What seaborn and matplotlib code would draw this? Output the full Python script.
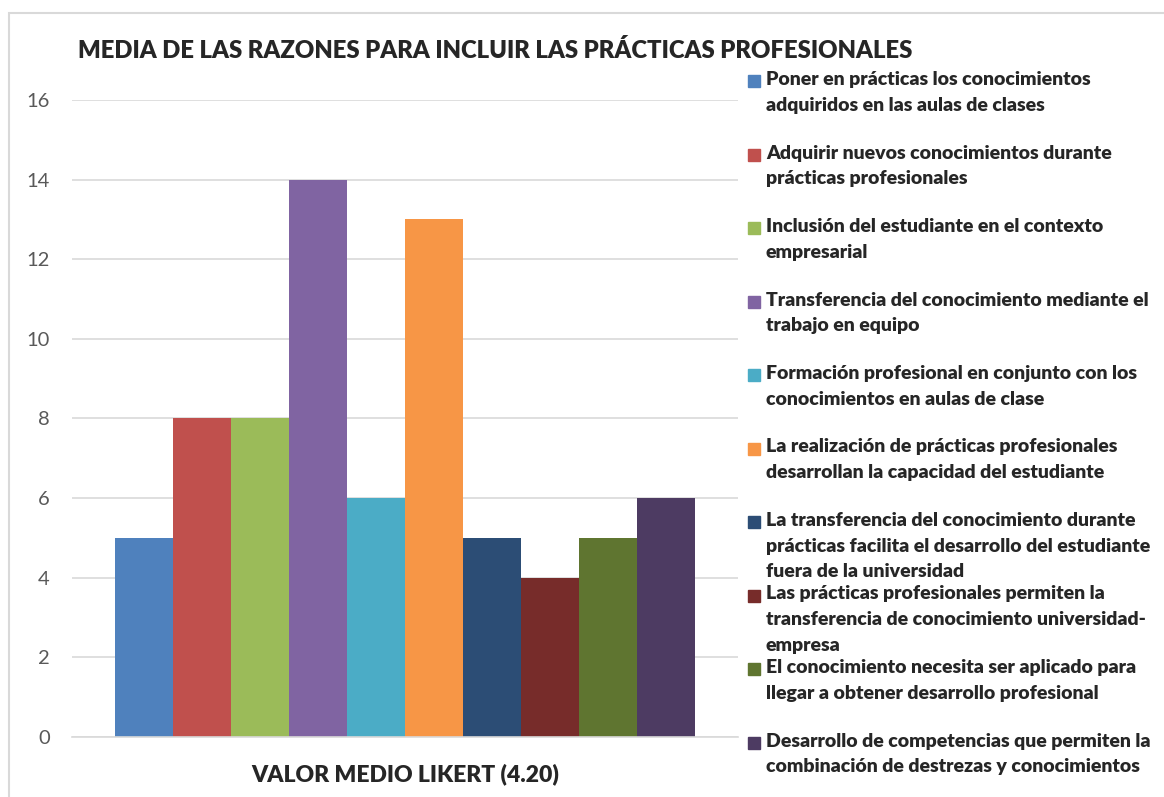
import pandas as pd
import matplotlib.pyplot as plt
import seaborn as sns
from matplotlib.patches import Rectangle

sns.set_style("white")
plt.rcParams['font.family'] = ['Lato', 'DejaVu Sans']

# Data
categoria = "VALOR MEDIO LIKERT (4.20)"
razones = [
    "Poner en prácticas los conocimientos\nadquiridos en las aulas de clases",
    "Adquirir nuevos conocimientos durante\nprácticas profesionales",
    "Inclusión del estudiante en el contexto\nempresarial",
    "Transferencia del conocimiento mediante el\ntrabajo en equipo",
    "Formación profesional en conjunto con los\nconocimientos en aulas de clase",
    "La realización de prácticas profesionales\ndesarrollan la capacidad del estudiante",
    "La transferencia del conocimiento durante\nprácticas facilita el desarrollo del estudiante\nfuera de la universidad",
    "Las prácticas profesionales permiten la\ntransferencia de conocimiento universidad-\nempresa",
    "El conocimiento necesita ser aplicado para\nllegar a obtener desarrollo profesional",
    "Desarrollo de competencias que permiten la\ncombinación de destrezas y conocimientos",
]
valores = [5, 8, 8, 14, 6, 13, 5, 4, 5, 6]
colores = ["#4F81BD", "#C0504D", "#9BBB59", "#8064A2", "#4BACC6",
           "#F79646", "#2C4D75", "#772C2A", "#5F7530", "#4D3B62"]

df = pd.DataFrame({"categoria": categoria, "razon": razones, "valor": valores})

fig = plt.figure(figsize=(11.64, 7.97), dpi=100)
ax = fig.add_axes([72/1164, 1-737/797, 666/1164, 637/797])

sns.barplot(data=df, x="categoria", y="valor", hue="razon", hue_order=razones,
            palette=colores, saturation=1, width=0.872, legend=False,
            linewidth=0, ax=ax)

ax.set_xlim(-0.5, 0.5)
ax.set_ylim(0, 16)
ax.set_yticks(range(0, 17, 2))
ax.grid(axis='y', color='#D9D9D9', linewidth=1.2)
ax.set_axisbelow(True)
for s in ['top', 'right', 'left']:
    ax.spines[s].set_visible(False)
ax.spines['bottom'].set_color('#D9D9D9')
ax.spines['bottom'].set_linewidth(1.2)
ax.tick_params(axis='y', length=0, pad=16, labelsize=14.5, labelcolor='#595959')
ax.tick_params(axis='x', length=0, pad=19)
for t in ax.get_xticklabels():
    t.set_fontsize(16.5)
    t.set_fontweight('heavy')
ax.set_xlabel("")
ax.set_ylabel("")

fig.text(78/1164, 1-50/797, "MEDIA DE LAS RAZONES PARA INCLUIR LAS PRÁCTICAS PROFESIONALES",
         fontsize=17.2, fontweight='heavy', va='center', ha='left')

# Legend (Excel style: fixed spacing, marker on first line)
y0, dy = 81, 73.5
for i, (lab, col) in enumerate(zip(razones, colores)):
    yc = y0 + i*dy
    fig.patches.append(Rectangle((748/1164, 1-(yc+6)/797), 12/1164, 12/797,
                                 color=col, transform=fig.transFigure))
    fig.text(766/1164, 1-(yc-10)/797, lab, fontsize=14, fontweight='heavy',
             va='top', ha='left', linespacing=1.62)

# outer frame
fig.patches.append(Rectangle((9/1164, -0.1), 1.2, 1-13/797+0.1, fill=False,
                             edgecolor='#D9D9D9', linewidth=1.5,
                             transform=fig.transFigure))

plt.savefig("out.png", dpi=100)
